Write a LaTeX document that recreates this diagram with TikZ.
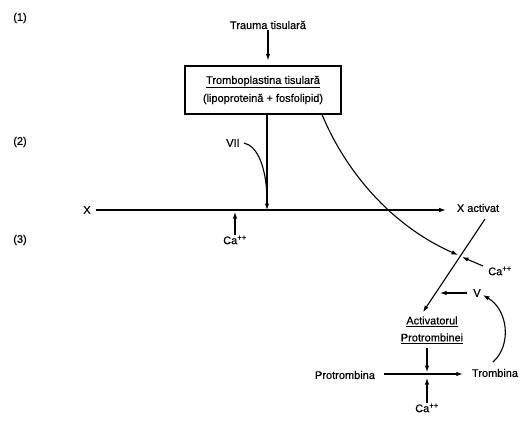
\documentclass[tikz,border=0pt]{standalone}
\usepackage{fontspec}
\setmainfont{Liberation Sans}[FakeBold=0.5]
\usetikzlibrary{arrows.meta,positioning,calc}

\begin{document}
\begin{tikzpicture}[x=1pt,y=-1pt,
  lbl/.style={font=\fontsize{11}{13}\selectfont, inner sep=1pt},
  arr/.style={-{Latex[length=6.5pt,width=4.5pt]}, line width=1.1pt},
  ln/.style={line width=1.1pt}]
  \useasboundingbox (0,0) rectangle (529,422);
  % stage numbers
  \node[lbl] (st1) at (20,18) {(1)};
  \node[lbl] (st2) at (20,142) {(2)};
  \node[lbl] (st3) at (20,240) {(3)};
  % stage 1
  \node[lbl] (trauma) at (268,25) {Trauma tisulară};
  \node[lbl, draw, line width=1.1pt, minimum width=156pt, minimum height=48pt,
        align=center, font=\fontsize{11}{18}\selectfont] (tromb) at (263,90)
        {\underline{Tromboplastina tisulară}\\(lipoproteină + fosfolipid)};
  \draw[arr] (trauma.south) -- ($(tromb.north)+(5,-5)$);
  % stage 2
  \node[lbl] (x) at (87,210) {X};
  \node[lbl] (xact) at (478,208) {X activat};
  \node[lbl] (vii) at (233,143) {VII};
  \node[lbl] (ca1) at (235,240) {Ca\textsuperscript{++}};
  \coordinate (jx) at (267,210);
  \draw[arr] (x.east) ++(4,0) -- ($(xact.west)+(-10,2)$);
  \draw[arr] (tromb.south -| jx) -- (jx);
  \draw[ln] (vii.east) ++(3,0) .. controls (258,146) and (266,168) .. (267,197);
  \draw[arr] (ca1.north) -- (235,212);
  % stage 3
  \draw[arr] ($(tromb.south)+(59,0)$) .. controls (345,170) and (390,225) .. (458,255);
  \node[lbl] (ca2) at (500,271) {Ca\textsuperscript{++}};
  \draw[arr] (483,266) -- (462,257);
  \coordinate (dtop) at (485,219);
  \coordinate (dbot) at (423,312);
  \draw[arr] (dtop) -- (dbot);
  \node[lbl] (v) at (477,293) {V};
  \draw[arr] ($(v.west)+(-5,0)$) -- (440,293);
  \node[lbl, align=center, font=\fontsize{11}{17}\selectfont] (act) at (432,330)
        {\underline{Activatorul}\\\underline{Protrombinei}};
  \node[lbl] (pro) at (345,375) {Protrombina};
  \node[lbl] (trb) at (495,373) {Trombina};
  \node[lbl] (ca3) at (427,408) {Ca\textsuperscript{++}};
  \coordinate (jp) at (427,374);
  \draw[arr] (pro.east) ++(8,-1) -- ($(trb.west)+(-8,1)$);
  \draw[arr] (act.south -| jp) ++(0,3) -- ($(jp)+(0,-2)$);
  \draw[arr] (ca3.north) -- ($(jp)+(0,4)$);
  \draw[arr] (493,362) .. controls (512,345) and (508,310) .. (483,295);
\end{tikzpicture}
\end{document}
